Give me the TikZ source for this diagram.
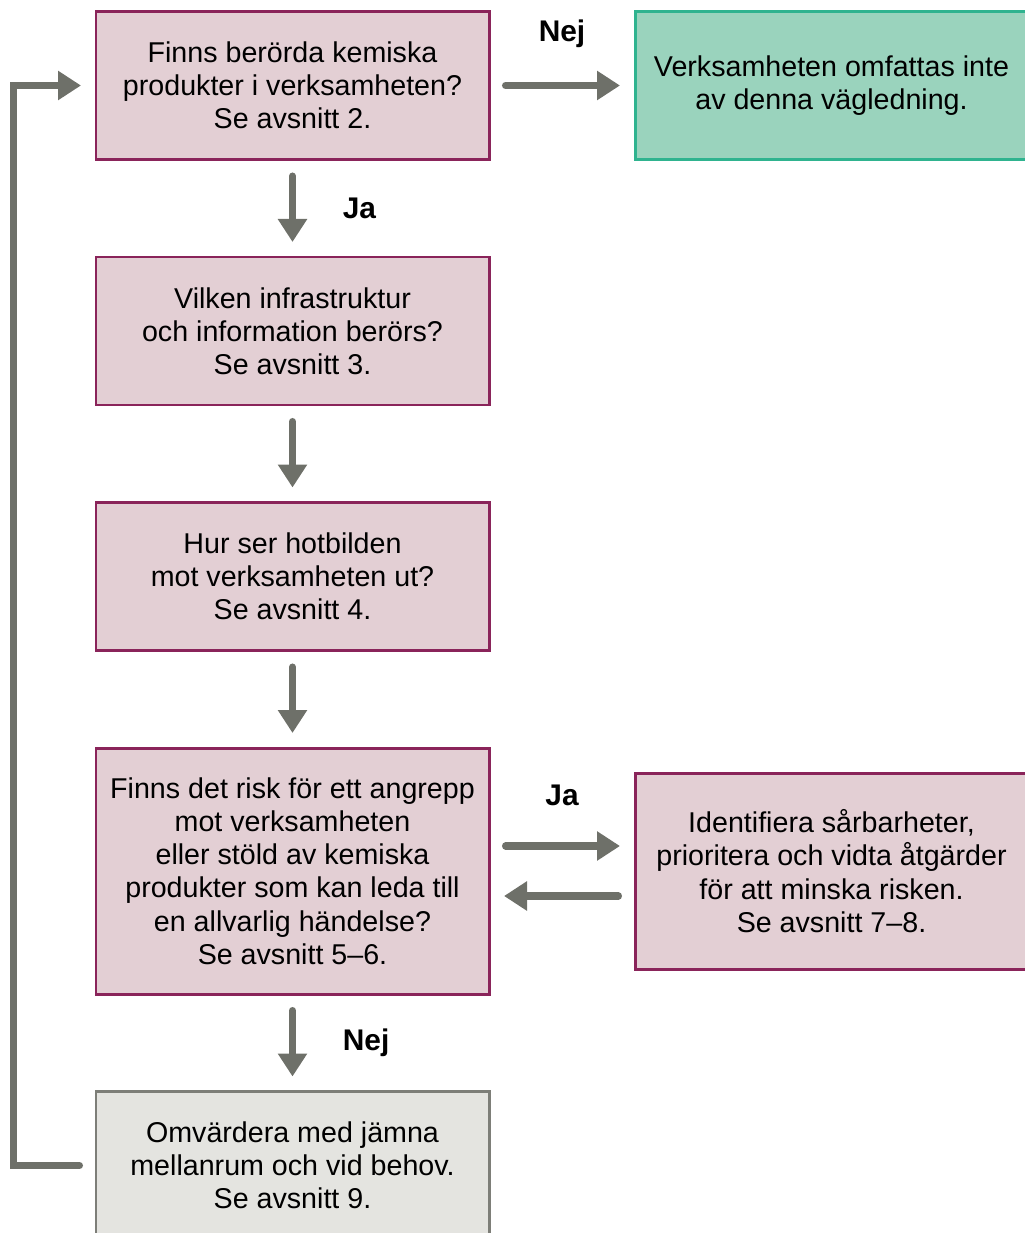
\documentclass[tikz,border=0pt]{standalone}
\usepackage{fontspec}
\setmainfont{Liberation Sans}
\usetikzlibrary{arrows.meta,positioning}
\definecolor{boxfill}{HTML}{E3CFD4}
\definecolor{boxline}{HTML}{8A245A}
\definecolor{endfill}{HTML}{9AD3BD}
\definecolor{endline}{HTML}{2FB38F}
\definecolor{revfill}{HTML}{E4E4E0}
\definecolor{revline}{HTML}{7D7E78}
\definecolor{arrowgrey}{HTML}{6E7069}

\begin{document}
\begin{tikzpicture}[
    node distance=1.95cm and 2.92cm, % Vertical and horizontal gap between boxes
    every node/.style={font=\fontsize{16.3}{18.9}\selectfont}, % Text size for all nodes
    box/.style={draw=boxline, fill=boxfill, line width=1.7pt, minimum width=7.86cm,
        minimum height=2.96cm, align=center, inner sep=0pt, outer sep=0pt}, % Question boxes
    endbox/.style={box, draw=endline, fill=endfill}, % Green end box
    revbox/.style={box, draw=revline, fill=revfill}, % Grey review box
    flow/.style={draw=arrowgrey, line width=4pt, line cap=round,
        -{Triangle[length=0.46cm, width=0.56cm]}, shorten <=0.33cm, shorten >=0.3cm}, % Thick grey arrows
    lbl/.style={font=\fontsize{17}{20}\selectfont\bfseries} % Ja / Nej labels
]
    \useasboundingbox (0,0) rectangle (20.48,-24.66);

    % Left column of steps, right hand boxes beside them
    \node (check) [box] at (5.85,-1.71) {Finns berörda kemiska\\produkter i verksamheten?\\Se avsnitt 2.};
    \node (outside) [endbox, right=of check] {Verksamheten omfattas inte\\av denna vägledning.};
    \node (infra) [box, below=of check] {Vilken infrastruktur\\och information berörs?\\Se avsnitt 3.};
    \node (threat) [box, below=of infra] {Hur ser hotbilden\\mot verksamheten ut?\\Se avsnitt 4.};
    \node (risk) [box, below=of threat, minimum height=4.92cm] {Finns det risk för ett angrepp\\mot verksamheten\\eller stöld av kemiska\\produkter som kan leda till\\en allvarlig händelse?\\Se avsnitt 5--6.};
    \node (measures) [box, right=of risk, minimum height=3.92cm] {Identifiera sårbarheter,\\prioritera och vidta åtgärder\\för att minska risken.\\Se avsnitt 7--8.};
    \node (reassess) [revbox, below=of risk] {Omvärdera med jämna\\mellanrum och vid behov.\\Se avsnitt 9.};

    % Arrows between the steps
    \draw [flow] (check) -- node[lbl, yshift=1.04cm] {Nej} (outside);
    \draw [flow] (check) -- node[lbl, right=0.82cm] {Ja} (infra);
    \draw [flow] (infra) -- (threat);
    \draw [flow] (threat) -- (risk);
    \draw [flow] ([yshift=0.5cm]risk.east) -- node[lbl, yshift=1.02cm] {Ja} ([yshift=0.5cm]measures.west);
    \draw [flow] ([yshift=-0.5cm]measures.west) -- ([yshift=-0.5cm]risk.east);
    \draw [flow] (risk) -- node[lbl, right=0.82cm] {Nej} (reassess);
    \draw [flow] (reassess.west) -- ++(-1.65,0) |- (check.west); % Loop back to the start
\end{tikzpicture}
\end{document}
